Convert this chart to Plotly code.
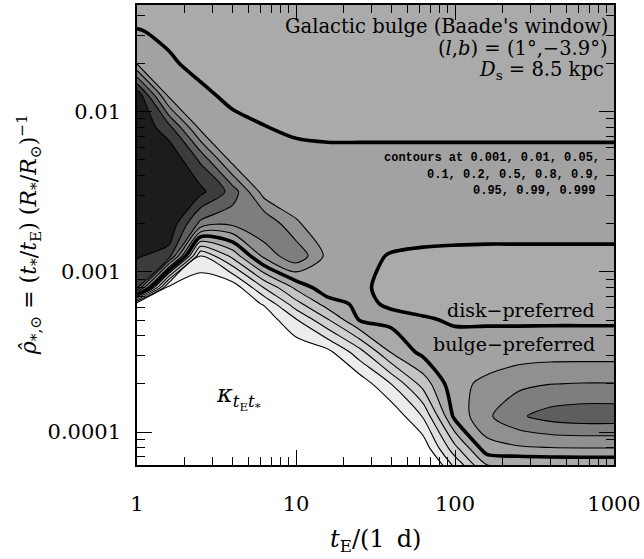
import numpy as np
import plotly.graph_objects as go

# ---- data ----
# grid columns: log10(t_E / 1 d)
log_tE = [0.0, 0.2, 0.4, 0.6, 0.8, 1.0, 1.2, 1.4, 1.6, 1.8, 2.0, 2.2, 2.4, 2.6, 2.8, 3.0]
# grid rows (bottom to top): log10(rho_hat)
log_rho = [-4.3, -4.1, -3.9, -3.7, -3.5, -3.3, -3.2, -3.1, -2.9, -2.7, -2.5, -2.3, -2.1, -1.9, -1.7, -1.5, -1.3]

# contour levels quoted on the chart (0.5 drawn heavy)
contour_levels = [0.001, 0.01, 0.05, 0.1, 0.2, 0.5, 0.8, 0.9, 0.95, 0.99, 0.999]
heavy_level = 0.5

# estimated probability at each grid node, one row per log_rho value (bottom -> top)
prob_rows = [
    [0.0002, 0.0002, 0.0002, 0.0002, 0.0002, 0.0002, 0.0002, 0.0002, 0.0002, 0.0002, 0.001, 0.075, 0.075, 0.075, 0.075, 0.075],
    [0.0002, 0.0002, 0.0002, 0.0002, 0.0002, 0.0002, 0.0002, 0.0002, 0.0002, 0.0003, 0.085, 0.68, 0.755, 0.785, 0.795, 0.795],
    [0.0002, 0.0002, 0.0002, 0.0002, 0.0002, 0.0002, 0.0002, 0.0002, 0.0002, 0.014, 0.59, 0.88, 0.9425, 0.966, 0.974, 0.974],
    [0.0002, 0.0002, 0.0002, 0.0002, 0.0002, 0.0002, 0.0002, 0.0003, 0.0105, 0.14, 0.725, 0.82, 0.875, 0.899, 0.9025, 0.9025],
    [0.0002, 0.0002, 0.0002, 0.0002, 0.0002, 0.0002, 0.0007, 0.034, 0.23, 0.59, 0.62, 0.65, 0.65, 0.665, 0.665, 0.665],
    [0.0002, 0.0002, 0.0002, 0.0002, 0.0003, 0.0091, 0.095, 0.515, 0.59, 0.53, 0.47, 0.464, 0.464, 0.464, 0.464, 0.464],
    [0.0003, 0.0002, 0.0002, 0.0002, 0.0019, 0.08, 0.35, 0.575, 0.455, 0.41, 0.395, 0.395, 0.395, 0.395, 0.395, 0.395],
    [0.9909, 0.0003, 0.0001, 0.0002, 0.051, 0.26, 0.71, 0.545, 0.425, 0.38, 0.38, 0.38, 0.38, 0.38, 0.38, 0.38],
    [0.9991, 0.9954, 0.0105, 0.13, 0.83, 0.94, 0.71, 0.56, 0.485, 0.455, 0.44, 0.431, 0.431, 0.431, 0.431, 0.431],
    [0.9999, 0.9998, 0.935, 0.91, 0.9475, 0.81, 0.65, 0.635, 0.62, 0.62, 0.62, 0.62, 0.62, 0.62, 0.62, 0.62],
    [0.9999, 0.9999, 0.9993, 0.974, 0.65, 0.65, 0.65, 0.65, 0.65, 0.65, 0.65, 0.65, 0.65, 0.65, 0.65, 0.65],
    [0.9999, 0.9999, 0.982, 0.68, 0.62, 0.59, 0.59, 0.605, 0.605, 0.605, 0.605, 0.605, 0.605, 0.605, 0.605, 0.605],
    [0.9999, 0.9936, 0.71, 0.56, 0.509, 0.455, 0.425, 0.41, 0.41, 0.41, 0.41, 0.41, 0.41, 0.41, 0.41, 0.41],
    [0.9998, 0.74, 0.545, 0.455, 0.395, 0.365, 0.35, 0.35, 0.35, 0.35, 0.35, 0.35, 0.35, 0.35, 0.35, 0.35],
    [0.785, 0.53, 0.44, 0.38, 0.35, 0.35, 0.35, 0.35, 0.35, 0.35, 0.35, 0.35, 0.35, 0.35, 0.35, 0.35],
    [0.515, 0.455, 0.38, 0.35, 0.35, 0.35, 0.35, 0.35, 0.35, 0.35, 0.35, 0.35, 0.35, 0.35, 0.35, 0.35],
    [0.35, 0.35, 0.35, 0.35, 0.35, 0.35, 0.35, 0.35, 0.35, 0.35, 0.35, 0.35, 0.35, 0.35, 0.35, 0.35],
]

x_tick_vals = [1, 10, 100, 1000]
x_tick_text = ["1", "10", "100", "1000"]
y_tick_vals = [0.0001, 0.001, 0.01]
y_tick_text = ["0.0001", "0.001", "0.01"]

# ---- styling ----
band_colors = ["#ffffff", "#ececec", "#dedede", "#d0d0d0", "#c4c4c4", "#aaaaaa",
               "#a2a2a2", "#909090", "#7e7e7e", "#5e5e5e", "#3c3c3c", "#1c1c1c"]
SERIF = "DejaVu Serif"
MONO = "Liberation Mono"

tE = [10 ** u for u in log_tE]
rho = [10 ** v for v in log_rho]
P = np.array(prob_rows, dtype=float)
bounds = [0.0] + contour_levels + [1.0]
# position of each node on the (non-uniform) contour-level ladder: level k sits at k
z = np.interp(P.ravel(), bounds, np.arange(len(bounds))).reshape(P.shape)
heavy_idx = bounds.index(heavy_level)

n = len(band_colors)
colorscale = [[i / (n - 1), c] for i, c in enumerate(band_colors)]

fig = go.Figure()
fig.add_trace(go.Contour(
    x=tE, y=rho, z=z, colorscale=colorscale, showscale=False,
    contours=dict(start=1, end=len(contour_levels), size=1, coloring="fill"),
    line=dict(color="black", width=1.1, smoothing=0.8), hoverinfo="skip"))
fig.add_trace(go.Contour(
    x=tE, y=rho, z=z, showscale=False,
    contours=dict(start=heavy_idx, end=heavy_idx, size=1, coloring="none"),
    line=dict(color="black", width=3.6, smoothing=0.8), hoverinfo="skip"))

minor_x = [m * 10 ** e for e in range(0, 3) for m in range(2, 10)]
minor_y = [m * 10 ** e for e in range(-5, -1) for m in range(2, 10)]

axis_common = dict(ticks="inside", ticklen=15, tickwidth=1.2, tickcolor="black",
                   showline=True, linecolor="black", linewidth=1.5, mirror="allticks",
                   showgrid=False, zeroline=False,
                   tickfont=dict(family=SERIF, size=21, color="black"))

fig.update_xaxes(type="log", range=[0, 3], tickmode="array", tickvals=x_tick_vals, ticktext=x_tick_text,
                 minor=dict(ticks="inside", ticklen=8, tickwidth=1, tickcolor="black",
                            tickmode="array", tickvals=minor_x, showgrid=False),
                 ticklabelstandoff=19, **axis_common)
fig.update_yaxes(type="log", range=[-4.205, -1.335], tickmode="array", tickvals=y_tick_vals, ticktext=y_tick_text,
                 minor=dict(ticks="inside", ticklen=8, tickwidth=1, tickcolor="black",
                            tickmode="array", tickvals=minor_y, showgrid=False),
                 ticklabelstandoff=10, **axis_common)

L, R, T, B = 137, 615, 3, 465
W, H = R - L, B - T


def px(xp):
    return (xp - L) / W


def py(yp):
    return (B - yp) / H


def note(text, xp, yp, size, anchor="right", family=SERIF, angle=0):
    fig.add_annotation(text=text, x=px(xp), y=py(yp), xref="paper", yref="paper",
                       xanchor=anchor, yanchor="middle", showarrow=False, textangle=angle,
                       font=dict(family=family, size=size, color="black"))


note("Galactic bulge (Baade's window)", 611, 25, 19.5)
note("(<i>l</i>,<i>b</i>) = (1°,−3.9°)", 611, 47, 19.5)
note("<i>D</i><sub>s</sub> = 8.5 kpc", 607, 69, 19.5)
note("<b>contours at 0.001, 0.01, 0.05,</b>", 603, 157, 12, family=MONO)
note("<b>0.1, 0.2, 0.5, 0.8, 0.9,</b>", 603, 174, 12, family=MONO)
note("<b>0.95, 0.99, 0.999</b>", 598, 190, 12, family=MONO)
note("disk−preferred", 598, 309, 19)
note("bulge−preferred", 598, 343, 19)
note("<i>κ</i><sub><i>t</i><sub>E</sub><i>t</i><sub>*</sub></sub>", 214, 397, 24, anchor="left")
note("<i>t</i><sub>E</sub>/(1\u2002d)", 376, 541, 24, anchor="center")
note("<i>ρ̂</i><sub>*,⊙</sub> = (<i>t</i><sub>*</sub>/<i>t</i><sub>E</sub>) (<i>R</i><sub>*</sub>/<i>R</i><sub>⊙</sub>)<sup>−1</sup>",
     29, 234, 22, anchor="center", angle=-90)

fig.update_layout(width=644, height=559, margin=dict(l=L, r=644 - R, t=T, b=559 - B),
                  paper_bgcolor="white", plot_bgcolor="white", showlegend=False)

fig.write_html("out.html")
